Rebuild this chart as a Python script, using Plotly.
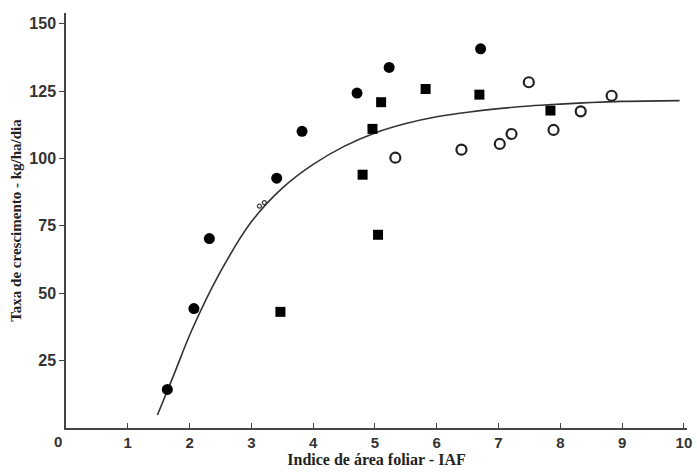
import plotly.graph_objects as go

# Filled circles
circ_x = [1.64, 2.07, 2.32, 3.41, 3.82, 4.71, 5.23, 6.71]
circ_y = [14.3, 44.3, 70.3, 92.7, 110.1, 124.3, 133.8, 140.7]

# Filled squares
sq_x = [3.47, 4.80, 4.96, 5.05, 5.10, 5.82, 6.69, 7.84]
sq_y = [43.1, 94.0, 111.0, 71.7, 120.9, 125.8, 123.7, 117.8]

# Open circles
oc_x = [5.33, 6.40, 7.02, 7.21, 7.49, 7.89, 8.33, 8.83]
oc_y = [100.3, 103.3, 105.4, 109.1, 128.3, 110.6, 117.5, 123.3]

# Tiny marks near the curve
tiny_x = [3.13, 3.21]
tiny_y = [82.3, 83.6]

# Fitted curve
curve_x = [1.48, 1.75, 2.03, 2.50, 3.00, 3.50, 4.00, 4.50, 5.00, 5.50, 6.00, 6.50, 7.00, 7.50, 8.00, 8.50, 9.00, 9.93]
curve_y = [4.8, 20.0, 36.0, 58.0, 76.5, 89.0, 97.8, 104.5, 109.5, 113.0, 115.5, 117.2, 118.5, 119.5, 120.2, 120.8, 121.2, 121.5]

x_ticks = [0, 1, 2, 3, 4, 5, 6, 7, 8, 9, 10]
x_ticktext = ["", "1", "2", "3", "4", "5", "6", "7", "8", "9", "10"]
y_ticks = [25, 50, 75, 100, 125, 150]

fig = go.Figure()
fig.add_trace(go.Scatter(x=curve_x, y=curve_y, mode="lines",
                         line=dict(color="#333333", width=1.6, shape="spline", smoothing=1.0),
                         hoverinfo="skip", showlegend=False))
fig.add_trace(go.Scatter(x=circ_x, y=circ_y, mode="markers",
                         marker=dict(symbol="circle", size=11, color="#000000"),
                         showlegend=False))
fig.add_trace(go.Scatter(x=sq_x, y=sq_y, mode="markers",
                         marker=dict(symbol="square", size=10, color="#000000"),
                         showlegend=False))
fig.add_trace(go.Scatter(x=oc_x, y=oc_y, mode="markers",
                         marker=dict(symbol="circle-open", size=10, color="#222222",
                                     line=dict(width=2.2, color="#222222")),
                         showlegend=False))
fig.add_trace(go.Scatter(x=tiny_x, y=tiny_y, mode="markers",
                         marker=dict(symbol="circle-open", size=4, color="#333333",
                                     line=dict(width=1.2, color="#333333")),
                         showlegend=False))

fig.update_layout(
    width=697, height=473,
    margin=dict(l=66, r=10, t=13, b=45),
    paper_bgcolor="white", plot_bgcolor="white",
    xaxis=dict(range=[0, 10.05], tickvals=x_ticks, ticktext=x_ticktext,
               automargin=False,
               showgrid=False, zeroline=False, showline=True,
               linecolor="#444444", linewidth=1.5,
               ticks="inside", ticklen=5, tickwidth=1.3, tickcolor="#444444",
               tickfont=dict(family="Liberation Sans", size=15, color="#333333", weight="bold"),
               title=dict(text="Indice de área foliar - IAF", standoff=2,
                          font=dict(family="Liberation Serif", size=16, color="#222222", weight="bold"))),
    yaxis=dict(range=[0, 154], tickvals=y_ticks,
               automargin=False,
               showgrid=False, zeroline=False, showline=True,
               linecolor="#444444", linewidth=1.5,
               ticks="outside", ticklen=5, tickwidth=1.3, tickcolor="#444444",
               tickfont=dict(family="Liberation Sans", size=16, color="#333333", weight="bold"),
               title=dict(text="Taxa de crescimento - kg/ha/dia", standoff=4,
                          font=dict(family="Liberation Serif", size=15, color="#222222", weight="bold"))),
)

fig.add_annotation(text="0", xref="paper", yref="paper", x=-0.013, y=0,
                   xanchor="center", yanchor="top", yshift=-3, showarrow=False,
                   font=dict(family="Liberation Sans", size=15, color="#333333", weight="bold"))

fig.write_html("out.html", config={"displayModeBar": False},
               post_script="document.body.style.margin='0';document.body.style.overflow='hidden';")
